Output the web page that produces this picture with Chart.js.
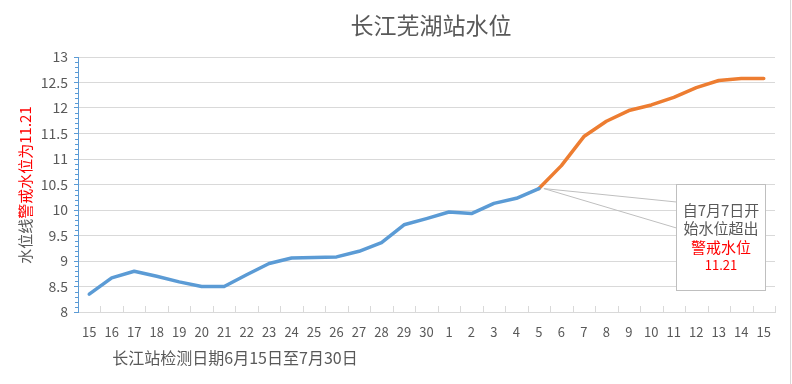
<!DOCTYPE html>
<html>
<head>
<meta charset="utf-8">
<script src="https://cdn.jsdelivr.net/npm/chart.js@4"></script>
<style>
  html, body { margin: 0; padding: 0; background: #fff; }
  #levelChart { display: block; }
</style>
</head>
<body>
<canvas id="levelChart" width="792" height="384"></canvas>
<script>
// dates: 6/15 - 6/30, then 7/1 - 7/15
const days = ['15', '16', '17', '18', '19', '20', '21', '22', '23', '24', '25', '26', '27', '28', '29', '30',
    '1', '2', '3', '4', '5', '6', '7', '8', '9', '10', '11', '12', '13', '14', '15'];

// below warning level (blue) and rising part (orange)
const normalLevel = [8.35, 8.67, 8.80, 8.70, 8.59, 8.50, 8.50, 8.73, 8.95, 9.06, 9.07, 9.08, 9.19, 9.36,
    9.71, 9.83, 9.96, 9.93, 10.13, 10.23, 10.42,
    null, null, null, null, null, null, null, null, null, null];
const risingLevel = [null, null, null, null, null, null, null, null, null, null, null, null, null, null,
    null, null, null, null, null, null, 10.42,
    10.87, 11.44, 11.74, 11.95, 12.06, 12.21, 12.40, 12.54, 12.58, 12.58];

const yTicks = [8, 8.5, 9, 9.5, 10, 10.5, 11, 11.5, 12, 12.5, 13];

const chartTitle = '长江芜湖站水位';
const xTitle = '长江站检测日期6月15日至7月30日';
const yTitleGray = '水位线';
const yTitleRed = '警戒水位为11.21';
const calloutLines = ['自7月7日开', '始水位超出', '警戒水位', '11.21'];
const calloutIndex = 20;

const colors = {
    blue: '#5B9BD5',
    orange: '#ED7D31',
    text: '#595959',
    red: '#FF0000',
    grid: '#d9d9d9',
    frame: '#bfbfbf'
};

const fontFamily = "'Noto Sans CJK SC', 'Noto Sans', sans-serif";

// titles, minor ticks, x tick marks, callout box
const decorations = {
    id: 'decorations',
    afterDatasetsDraw(chart) {
        const ctx = chart.ctx;
        const area = chart.chartArea;
        const x = chart.scales.x;
        const y = chart.scales.y;

        ctx.save();

        // minor ticks on the value axis
        ctx.strokeStyle = colors.blue;
        ctx.lineWidth = 1;
        ctx.beginPath();
        for (let i = 1; i < 50; i++) {
            if (i % 5 === 0) continue;
            const py = Math.round(y.getPixelForValue(8 + i * 0.1)) + 0.5;
            ctx.moveTo(area.left - 3, py);
            ctx.lineTo(area.left, py);
        }
        ctx.stroke();

        // category tick marks, pointing up into the plot
        ctx.strokeStyle = colors.grid;
        ctx.beginPath();
        for (let i = 1; i <= days.length; i++) {
            const px = Math.round(x.getPixelForValue(i - 0.5)) + 0.5;
            ctx.moveTo(px, area.bottom - 6);
            ctx.lineTo(px, area.bottom);
        }
        ctx.stroke();

        // callout
        const ax = x.getPixelForValue(calloutIndex) + 5;
        const ay = y.getPixelForValue(normalLevel[calloutIndex]);
        const box = { left: 676.5, top: 184.5, right: 765.5, bottom: 290.5 };
        ctx.strokeStyle = colors.frame;
        ctx.beginPath();
        ctx.moveTo(ax, ay);
        ctx.lineTo(box.left, 202);
        ctx.moveTo(ax, ay);
        ctx.lineTo(box.left, 228);
        ctx.stroke();
        ctx.fillStyle = '#fff';
        ctx.fillRect(box.left, box.top, box.right - box.left, box.bottom - box.top);
        ctx.strokeRect(box.left, box.top, box.right - box.left, box.bottom - box.top);

        const cx = (box.left + box.right) / 2;
        ctx.textAlign = 'center';
        ctx.textBaseline = 'middle';
        ctx.font = '15px ' + fontFamily;
        ctx.fillStyle = colors.text;
        ctx.fillText(calloutLines[0], cx, 210);
        ctx.fillText(calloutLines[1], cx, 228);
        ctx.fillStyle = colors.red;
        ctx.fillText(calloutLines[2], cx, 247);
        ctx.font = '13px ' + fontFamily;
        ctx.fillText(calloutLines[3], cx, 265);

        // chart title
        ctx.fillStyle = colors.text;
        ctx.font = '23px ' + fontFamily;
        ctx.fillText(chartTitle, 431, 25);

        // x axis title
        ctx.font = '16px ' + fontFamily;
        ctx.fillText(xTitle, 235, 358);

        // y axis title, two colours, rotated
        ctx.font = '15px ' + fontFamily;
        ctx.translate(25, 185);
        ctx.rotate(-Math.PI / 2);
        const wGray = ctx.measureText(yTitleGray).width;
        const wRed = ctx.measureText(yTitleRed).width;
        const start = -(wGray + wRed) / 2;
        ctx.textAlign = 'left';
        ctx.fillStyle = colors.text;
        ctx.fillText(yTitleGray, start, 0);
        ctx.fillStyle = colors.red;
        ctx.fillText(yTitleRed, start + wGray, 0);
        ctx.restore();

        // right frame edge
        ctx.save();
        ctx.strokeStyle = colors.grid;
        ctx.beginPath();
        ctx.moveTo(790.5, 0);
        ctx.lineTo(790.5, 384);
        ctx.stroke();
        ctx.restore();
    }
};

new Chart(document.getElementById('levelChart'), {
    type: 'line',
    data: {
        labels: days,
        datasets: [{
            data: normalLevel,
            borderColor: colors.blue,
            borderWidth: 3.5,
            pointRadius: 0,
            tension: 0,
            borderCapStyle: 'round',
            borderJoinStyle: 'round'
        }, {
            data: risingLevel,
            borderColor: colors.orange,
            borderWidth: 3.5,
            pointRadius: 0,
            tension: 0,
            borderCapStyle: 'round',
            borderJoinStyle: 'round'
        }]
    },
    options: {
        responsive: false,
        devicePixelRatio: 1,
        animation: false,
        layout: {
            padding: { top: 57, right: 17, left: 0, bottom: 0 }
        },
        plugins: {
            legend: { display: false },
            tooltip: { enabled: false }
        },
        scales: {
            x: {
                offset: true,
                grid: { display: false },
                border: { color: colors.grid },
                ticks: {
                    color: colors.text,
                    padding: 4,
                    maxRotation: 0,
                    autoSkip: false,
                    font: { family: fontFamily, size: 13 }
                },
                afterFit: (scale) => { scale.height = 72; }
            },
            y: {
                min: 8,
                max: 13,
                afterBuildTicks: (scale) => {
                    scale.ticks = yTicks.map(v => ({ value: v }));
                },
                grid: {
                    color: colors.grid,
                    tickColor: colors.blue,
                    tickLength: 4
                },
                border: { color: colors.blue },
                ticks: {
                    color: colors.text,
                    padding: 6,
                    font: { family: fontFamily, size: 14 },
                    callback: (value) => String(value)
                },
                afterFit: (scale) => { scale.width = 78; }
            }
        }
    },
    plugins: [decorations]
});
</script>
</body>
</html>
